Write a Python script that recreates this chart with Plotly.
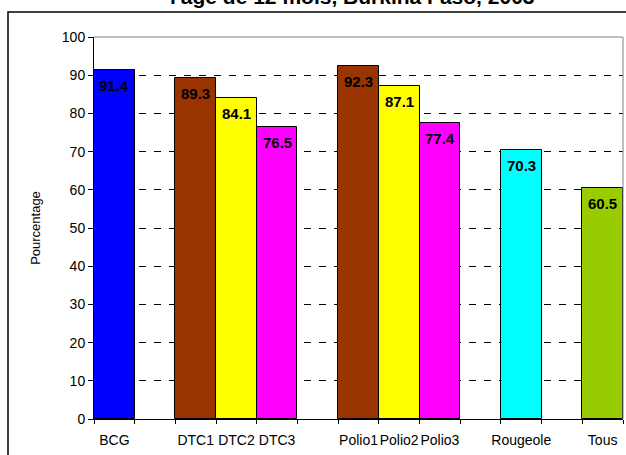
import plotly.graph_objects as go

categories = ["BCG", " ", "DTC1", "DTC2", "DTC3", "  ", "Polio1", "Polio2", "Polio3", "   ", "Rougeole", "    ", "Tous"]
values = [91.4, None, 89.3, 84.1, 76.5, None, 92.3, 87.1, 77.4, None, 70.3, None, 60.5]
colors = ["#0000FF", "#FFFFFF", "#993300", "#FFFF00", "#FF00FF", "#FFFFFF", "#993300", "#FFFF00", "#FF00FF", "#FFFFFF", "#00FFFF", "#FFFFFF", "#99CC00"]
y_ticks = [0, 10, 20, 30, 40, 50, 60, 70, 80, 90, 100]
title_text = "l'age de 12 mois, Burkina Faso, 2003"
y_title = "Pourcentage"

FONT = "Arial, Liberation Sans, sans-serif"

fig = go.Figure()
fig.add_trace(go.Bar(
    x=categories, y=values,
    marker=dict(color=colors, line=dict(color="#000000", width=1)),
    width=1.0,
    hoverinfo="x+y",
))

for c, v in zip(categories, values):
    if v is None:
        continue
    fig.add_annotation(x=c, y=v, xref="x", yref="y", text=f"<b>{v:.1f}</b>",
                       showarrow=False, yanchor="top", yshift=-5,
                       font=dict(family=FONT, size=15, color="#000000"))

# cut-off title
fig.add_annotation(x=0.488, y=1.106, xref="paper", yref="paper", text=f"<b>{title_text}</b>",
                   showarrow=False, xanchor="center", yanchor="middle",
                   font=dict(family=FONT, size=21, color="#000000"))

# outer chart border
fig.add_shape(type="rect", xref="paper", yref="paper",
              x0=(8 - 94) / 529, x1=1.2, y0=-0.3, y1=(419 - 12) / 382,
              line=dict(color="#000000", width=1.5), fillcolor="rgba(0,0,0,0)", layer="below")
# right and top plot border
fig.add_shape(type="line", xref="paper", yref="paper", x0=1, x1=1, y0=0, y1=1,
              line=dict(color="#808080", width=1))
fig.add_shape(type="line", xref="paper", yref="paper", x0=0, x1=1, y0=1, y1=1,
              line=dict(color="#808080", width=1))

fig.update_layout(
    width=626, height=455,
    margin=dict(l=94, r=3, t=37, b=36),
    paper_bgcolor="#FFFFFF", plot_bgcolor="#FFFFFF",
    bargap=0,
    showlegend=False,
    font=dict(family=FONT, size=12, color="#000000"),
    xaxis=dict(
        type="category", categoryorder="array", categoryarray=categories,
        tickmode="array", tickvals=categories, ticktext=categories,
        tickangle=0, ticklabelstandoff=8,
        showline=True, linecolor="#000000", linewidth=1,
        ticks="outside", tickson="boundaries", ticklen=4, tickcolor="#000000",
        showgrid=False, fixedrange=True,
        tickfont=dict(family=FONT, size=14, color="#000000"),
    ),
    yaxis=dict(
        range=[0, 100], tickvals=y_ticks,
        showline=True, linecolor="#000000", linewidth=1,
        ticks="outside", ticklen=5, tickcolor="#000000",
        showgrid=True, gridcolor="#000000", gridwidth=1, griddash="7px,8px",
        zeroline=False,
        tickfont=dict(family=FONT, size=14, color="#000000"),
        title=dict(text=y_title, font=dict(family=FONT, size=13, color="#000000"), standoff=18),
    ),
)

fig.write_html("out.html", config={"displayModeBar": False},
               post_script="document.body.style.margin='0';document.body.style.overflow='hidden';")
